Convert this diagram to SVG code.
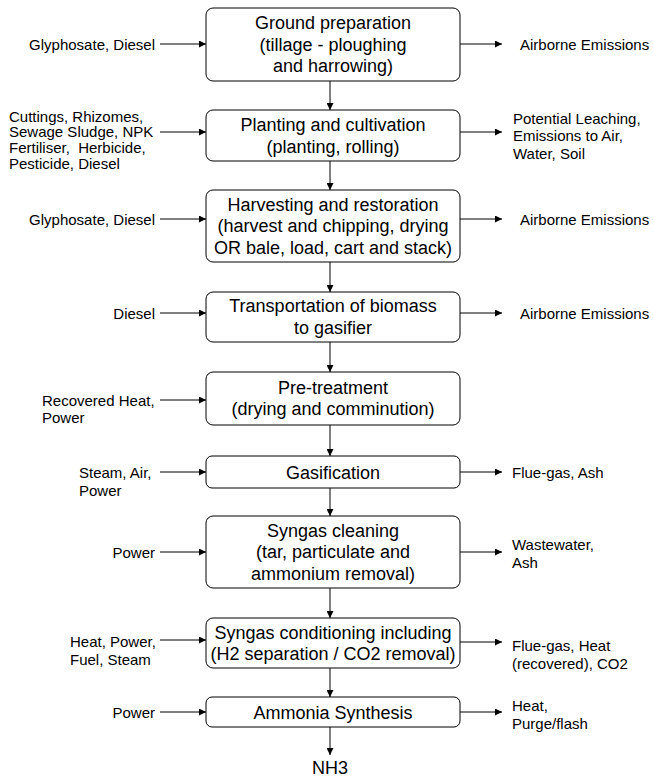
<svg xmlns="http://www.w3.org/2000/svg" width="653" height="778" viewBox="0 0 653 778">
<defs>
<marker id="ah" markerWidth="8" markerHeight="7" refX="7" refY="3.5" orient="auto" markerUnits="userSpaceOnUse">
<path d="M0,0 L7,3.5 L0,7 Z" fill="#000"/>
</marker>
<style>
.box{fill:#fff;stroke:#000;stroke-width:1}
.bt{font-family:"Liberation Sans",Arial,sans-serif;font-size:18px;fill:#000;text-anchor:middle}
.st{font-family:"Liberation Sans",Arial,sans-serif;font-size:15px;fill:#000}
.r{text-anchor:end}
.c{stroke:#000;stroke-width:1;fill:none;marker-end:url(#ah)}
</style>
</defs>
<rect width="653" height="778" fill="#fff"/>
<g id="connectors">
<line class="c" x1="330" y1="81" x2="330" y2="110"/>
<line class="c" x1="330" y1="161" x2="330" y2="190"/>
<line class="c" x1="330" y1="262" x2="330" y2="292"/>
<line class="c" x1="330" y1="342" x2="330" y2="372"/>
<line class="c" x1="330" y1="425" x2="330" y2="456"/>
<line class="c" x1="330" y1="488" x2="330" y2="516"/>
<line class="c" x1="330" y1="588" x2="330" y2="618"/>
<line class="c" x1="330" y1="668" x2="330" y2="697"/>
<line class="c" x1="330" y1="727" x2="330" y2="755"/>
<line class="c" x1="160" y1="44" x2="206" y2="44"/>
<line class="c" x1="160" y1="132" x2="206" y2="132"/>
<line class="c" x1="160" y1="219" x2="206" y2="219"/>
<line class="c" x1="160" y1="313" x2="206" y2="313"/>
<line class="c" x1="160" y1="400" x2="206" y2="400"/>
<line class="c" x1="160" y1="472" x2="206" y2="472"/>
<line class="c" x1="160" y1="552" x2="206" y2="552"/>
<line class="c" x1="160" y1="640" x2="206" y2="640"/>
<line class="c" x1="160" y1="712" x2="206" y2="712"/>
<line class="c" x1="460" y1="44" x2="502" y2="44"/>
<line class="c" x1="460" y1="132" x2="502" y2="132"/>
<line class="c" x1="460" y1="219" x2="502" y2="219"/>
<line class="c" x1="460" y1="313" x2="502" y2="313"/>
<line class="c" x1="460" y1="472" x2="502" y2="472"/>
<line class="c" x1="460" y1="552" x2="502" y2="552"/>
<line class="c" x1="460" y1="642" x2="502" y2="642"/>
<line class="c" x1="460" y1="712" x2="502" y2="712"/>
</g>
<g id="ground-preparation">
<rect class="box" x="206" y="8" width="254" height="73" rx="7"/>
<text class="bt" x="333" y="29">Ground preparation</text>
<text class="bt" x="333" y="50.5">(tillage - ploughing</text>
<text class="bt" x="333" y="72">and harrowing)</text>
</g>
<g id="planting">
<rect class="box" x="206" y="110" width="254" height="51" rx="7"/>
<text class="bt" x="333" y="131">Planting and cultivation</text>
<text class="bt" x="333" y="152.5">(planting, rolling)</text>
</g>
<g id="harvesting">
<rect class="box" x="206" y="190" width="254" height="72" rx="7"/>
<text class="bt" x="333" y="210.5">Harvesting and restoration</text>
<text class="bt" x="333" y="232">(harvest and chipping, drying</text>
<text class="bt" x="333" y="253.5">OR bale, load, cart and stack)</text>
</g>
<g id="transportation">
<rect class="box" x="206" y="292" width="254" height="50" rx="7"/>
<text class="bt" x="333" y="312">Transportation of biomass</text>
<text class="bt" x="333" y="333.5">to gasifier</text>
</g>
<g id="pre-treatment">
<rect class="box" x="206" y="372" width="254" height="53" rx="7"/>
<text class="bt" x="333" y="393.5">Pre-treatment</text>
<text class="bt" x="333" y="415">(drying and comminution)</text>
</g>
<g id="gasification">
<rect class="box" x="206" y="456" width="254" height="32" rx="6"/>
<text class="bt" x="333" y="478.5">Gasification</text>
</g>
<g id="syngas-cleaning">
<rect class="box" x="206" y="516" width="254" height="72" rx="7"/>
<text class="bt" x="333" y="536.5">Syngas cleaning</text>
<text class="bt" x="333" y="558">(tar, particulate and</text>
<text class="bt" x="333" y="579.5">ammonium removal)</text>
</g>
<g id="syngas-conditioning">
<rect class="box" x="206" y="618" width="254" height="50" rx="7"/>
<text class="bt" x="333" y="638.5">Syngas conditioning including</text>
<text class="bt" x="333" y="660">(H2 separation / CO2 removal)</text>
</g>
<g id="ammonia-synthesis">
<rect class="box" x="206" y="697" width="254" height="30" rx="6"/>
<text class="bt" x="333" y="718.5">Ammonia Synthesis</text>
</g>
<g id="nh3">
<text class="bt" x="330" y="774">NH3</text>
</g>
<g id="inputs">
<text class="st r" x="155" y="49.5">Glyphosate, Diesel</text>
<text class="st" x="9" y="121.5">Cuttings, Rhizomes,</text>
<text class="st" x="9" y="137">Sewage Sludge, NPK</text>
<text class="st" x="9" y="153">Fertiliser,&#160; Herbicide,</text>
<text class="st" x="9" y="169">Pesticide, Diesel</text>
<text class="st r" x="155" y="224.5">Glyphosate, Diesel</text>
<text class="st r" x="155" y="318.5">Diesel</text>
<text class="st" x="42" y="405.5">Recovered Heat,</text>
<text class="st" x="42" y="423">Power</text>
<text class="st" x="79" y="478">Steam, Air,</text>
<text class="st" x="79" y="496">Power</text>
<text class="st r" x="155" y="557.5">Power</text>
<text class="st" x="70" y="646.5">Heat, Power,</text>
<text class="st" x="70" y="664.5">Fuel, Steam</text>
<text class="st r" x="155" y="718">Power</text>
</g>
<g id="outputs">
<text class="st" x="520" y="49.5">Airborne Emissions</text>
<text class="st" x="513" y="123.5">Potential Leaching,</text>
<text class="st" x="513" y="141">Emissions to Air,</text>
<text class="st" x="513" y="158.5">Water, Soil</text>
<text class="st" x="520" y="224.5">Airborne Emissions</text>
<text class="st" x="520" y="318.5">Airborne Emissions</text>
<text class="st" x="512" y="478">Flue-gas, Ash</text>
<text class="st" x="512" y="550">Wastewater,</text>
<text class="st" x="512" y="568">Ash</text>
<text class="st" x="512" y="650.5">Flue-gas, Heat</text>
<text class="st" x="512" y="668.5">(recovered), CO2</text>
<text class="st" x="512" y="711">Heat,</text>
<text class="st" x="512" y="729">Purge/flash</text>
</g>
</svg>
